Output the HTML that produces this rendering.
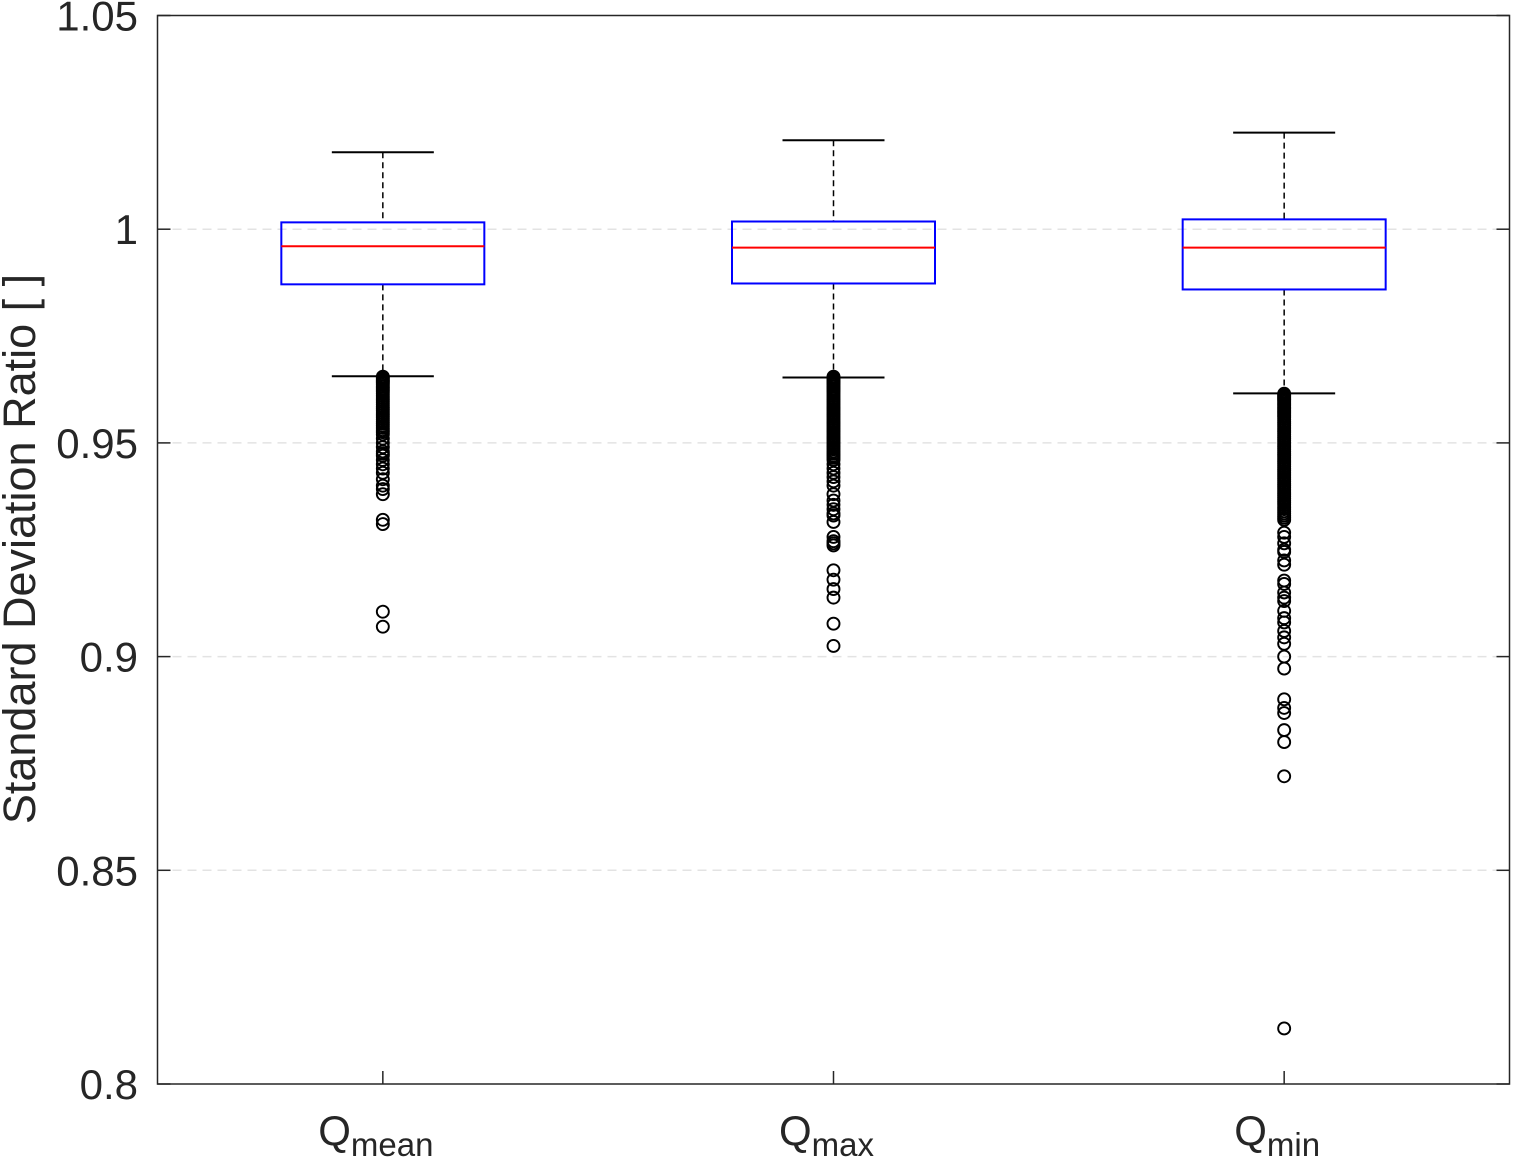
<!DOCTYPE html>
<html><head><meta charset="utf-8"><style>
html,body{margin:0;padding:0;background:#fff;}
svg{display:block;font-family:"Liberation Sans",Arial,sans-serif;}
</style></head><body>
<svg id="chart" width="1513" height="1166" viewBox="0 0 1513 1166" xmlns="http://www.w3.org/2000/svg">
<text transform="translate(35,549) rotate(-90)" text-anchor="middle" font-size="45" fill="#262626">Standard Deviation Ratio [ ]</text>
<g id="grid"></g><g id="yticks"></g><g id="boxes"></g><g id="xlabels"></g>
<rect x="157.5" y="15.5" width="1352" height="1068.5" fill="none" stroke="#262626" stroke-width="1.5"/>
</svg>
<script>
const categories = ['mean','max','min'];
const upperWhisker = [1.0180, 1.0208, 1.0226];
const q3 = [1.0016, 1.0018, 1.0023];
const medians = [0.9960, 0.9957, 0.9957];
const q1 = [0.9871, 0.9873, 0.9859];
const lowerWhisker = [0.9656, 0.9653, 0.9616];
const outliersMean = [0.9655,0.9652,0.9649,0.9646,0.9643,0.964,0.9636,0.9632,0.9628,0.9624,0.962,0.9615,0.961,0.9605,0.96,0.9595,0.959,0.9585,0.958,0.9575,0.957,0.9565,0.956,0.9555,0.955,0.9545,0.954,0.9535,0.953,0.9525,0.952,0.951,0.950,0.949,0.948,0.9475,0.947,0.946,0.945,0.944,0.943,0.9415,0.940,0.9392,0.938,0.932,0.931,0.9105,0.907];
const outliersMax = [0.9655,0.9652,0.9649,0.9646,0.9643,0.964,0.9636,0.9632,0.9628,0.9624,0.962,0.9615,0.961,0.9605,0.96,0.9595,0.959,0.9585,0.958,0.9575,0.957,0.9565,0.956,0.9555,0.955,0.9545,0.954,0.9535,0.953,0.9525,0.952,0.9515,0.951,0.9505,0.950,0.9495,0.949,0.9485,0.948,0.9475,0.947,0.9465,0.946,0.945,0.944,0.943,0.942,0.941,0.940,0.938,0.9365,0.9355,0.9345,0.9335,0.933,0.9315,0.928,0.927,0.9265,0.926,0.9202,0.918,0.9158,0.9138,0.9077,0.9025];
const outliersMin = [0.9615,0.9612,0.9609,0.9606,0.9603,0.96,0.9596,0.9592,0.9588,0.9584,0.958,0.9576,0.9572,0.9568,0.9564,0.956,0.9555,0.955,0.9545,0.954,0.9535,0.953,0.9525,0.952,0.9515,0.951,0.9505,0.950,0.9495,0.949,0.9485,0.948,0.9475,0.947,0.9465,0.946,0.9455,0.945,0.9445,0.944,0.9435,0.943,0.9425,0.942,0.9415,0.941,0.9405,0.940,0.9395,0.939,0.9385,0.938,0.9375,0.937,0.9365,0.936,0.9355,0.935,0.9345,0.934,0.9335,0.933,0.9325,0.932,0.929,0.928,0.9265,0.925,0.9245,0.9225,0.9215,0.9178,0.917,0.915,0.9138,0.913,0.9107,0.909,0.908,0.906,0.9045,0.903,0.900,0.8972,0.890,0.888,0.8868,0.8828,0.880,0.872,0.813];
const outliers = [outliersMean, outliersMax, outliersMin];
const yTicks = [0.8,0.85,0.9,0.95,1,1.05];
const yTickLabels = ['0.8','0.85','0.9','0.95','1','1.05'];

const NS='http://www.w3.org/2000/svg';
const L=157.5,R=1509.5,T=15.5,B=1084;
const yMin=0.8,yMax=1.05;
function yS(v){return B-(v-yMin)/(yMax-yMin)*(B-T);}
function xS(i){return L+(R-L)*(i+0.5)/categories.length;}
function mk(tag,attrs,parent){const e=document.createElementNS(NS,tag);for(const k in attrs)e.setAttribute(k,attrs[k]);parent.appendChild(e);return e;}
const grid=document.getElementById('grid'),yt=document.getElementById('yticks'),bx=document.getElementById('boxes'),xl=document.getElementById('xlabels');
yTicks.forEach((v,i)=>{
  const y=yS(v);
  if(i>0&&i<yTicks.length-1){
    const g=mk('line',{x1:L,x2:R,y1:y,y2:y,stroke:'#e3e3e3','stroke-width':1.5,'stroke-dasharray':'9,6'},grid);
    
    
  }
  const t1=mk('line',{x1:L,x2:L+13,y1:y,y2:y,stroke:'#262626','stroke-width':1.5},yt);
  
  
  const t2=mk('line',{x1:R-13,x2:R,y1:y,y2:y,stroke:'#262626','stroke-width':1.5},yt);
  
  
  const tx=mk('text',{x:138,y:y+15,'text-anchor':'end','font-size':42,fill:'#262626'},yt);
  tx.textContent=yTickLabels[i];
  
  
});
categories.forEach((c,i)=>{
  const x=xS(i),hw=101.5,cw=51;
  const g=mk('g',{},bx);
  
  
  const tk=mk('line',{x1:x,x2:x,y1:B,y2:B-13,stroke:'#262626','stroke-width':1.5},g);
  
  
  const w1=mk('line',{x1:x,x2:x,y1:yS(upperWhisker[i]),y2:yS(q3[i]),stroke:'#000','stroke-width':1.5,'stroke-dasharray':'6,4'},g);
  
  
  const w2=mk('line',{x1:x,x2:x,y1:yS(q1[i]),y2:yS(lowerWhisker[i]),stroke:'#000','stroke-width':1.5,'stroke-dasharray':'6,4'},g);
  
  
  const c1=mk('line',{x1:x-cw,x2:x+cw,y1:yS(upperWhisker[i]),y2:yS(upperWhisker[i]),stroke:'#000','stroke-width':2},g);
  
  
  const c2=mk('line',{x1:x-cw,x2:x+cw,y1:yS(lowerWhisker[i]),y2:yS(lowerWhisker[i]),stroke:'#000','stroke-width':2},g);
  
  
  const r=mk('rect',{x:x-hw,y:yS(q3[i]),width:2*hw,height:yS(q1[i])-yS(q3[i]),fill:'none',stroke:'#0000ff','stroke-width':2},g);
  
  
  const m=mk('line',{x1:x-hw,x2:x+hw,y1:yS(medians[i]),y2:yS(medians[i]),stroke:'#ff0000','stroke-width':2},g);
  
  
  outliers[i].forEach(v=>{
    const o=mk('circle',{cx:x,cy:yS(v),r:6,fill:'none',stroke:'#000','stroke-width':1.9},g);
    
    
  });
  const t=mk('text',{x:x-7,y:1145,'text-anchor':'middle','font-size':42,fill:'#262626'},xl);
  
  
  t.textContent='Q';
  const s=mk('tspan',{'font-size':33,dy:11},t);
  s.textContent=c;
});
</script>
</body></html>
